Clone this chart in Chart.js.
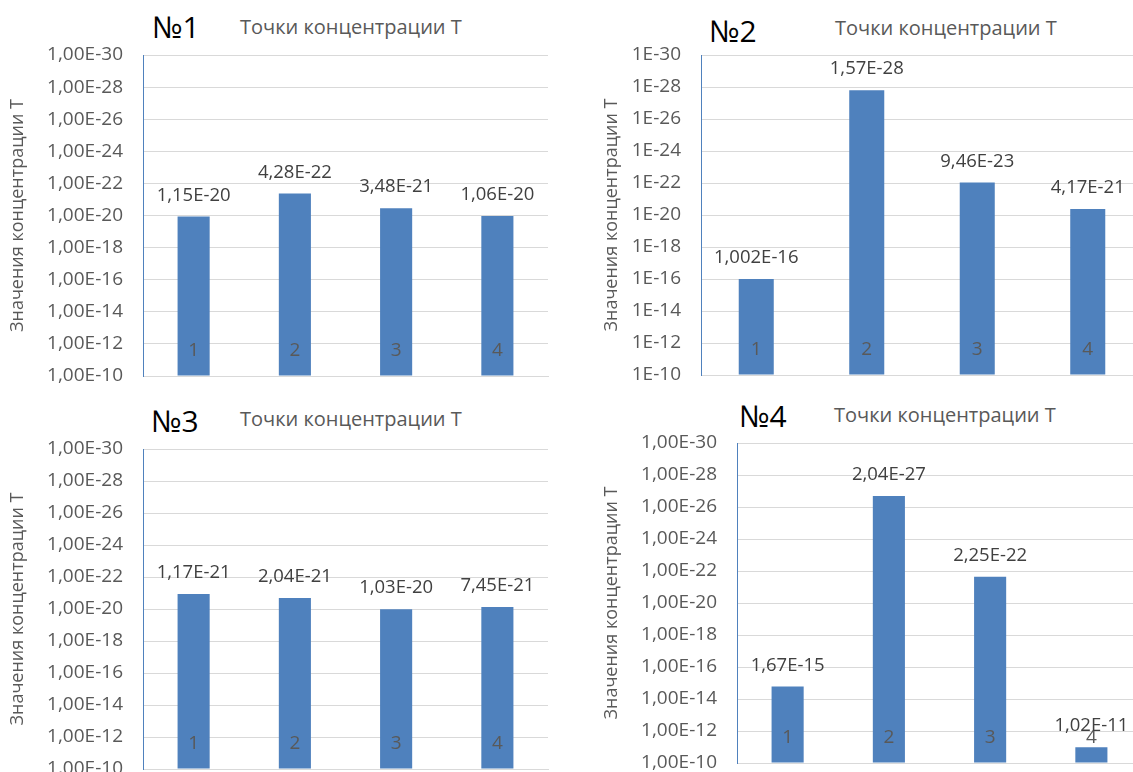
<!DOCTYPE html>
<html>
<head>
<meta charset="utf-8">
<script src="https://cdn.jsdelivr.net/npm/chart.js@4.4.1/dist/chart.umd.min.js"></script>
<style>
  html, body { margin: 0; padding: 0; background: #fff; overflow: hidden; }
  #wrap { position: relative; width: 1133px; height: 772px; overflow: hidden; font-family: 'Open Sans', sans-serif; }
  canvas { position: absolute; }
  .num { position: absolute; font-size: 30px; color: #000; line-height: 1; white-space: nowrap; }
  .sub { position: absolute; font-size: 20px; color: #595959; line-height: 1; white-space: nowrap; }
</style>
</head>
<body>
<div id="wrap">
  <div class="num" style="left:152px;top:12px">№1</div>
  <div class="sub" style="left:240px;top:17px">Точки концентрации Т</div>
  <div class="num" style="left:709px;top:16px">№2</div>
  <div class="sub" style="left:835px;top:18px">Точки концентрации Т</div>
  <div class="num" style="left:151px;top:406px">№3</div>
  <div class="sub" style="left:240px;top:409px">Точки концентрации Т</div>
  <div class="num" style="left:739px;top:401px">№4</div>
  <div class="sub" style="left:834px;top:405px">Точки концентрации Т</div>
  <canvas id="c1" width="580" height="385" style="left:0px;top:0px"></canvas>
  <canvas id="c2" width="560" height="385" style="left:590px;top:0px"></canvas>
  <canvas id="c3" width="580" height="382" style="left:0px;top:390px"></canvas>
  <canvas id="c4" width="560" height="382" style="left:590px;top:390px"></canvas>
</div>
<script>
// Measuring points
const categories = ['1', '2', '3', '4'];

// Concentration values T for each series
const valuesNo1 = [1.15e-20, 4.28e-22, 3.48e-21, 1.06e-20];
const valuesNo2 = [1.002e-16, 1.57e-28, 9.46e-23, 4.17e-21];
const valuesNo3 = [1.17e-21, 2.04e-21, 1.03e-20, 7.45e-21];
const valuesNo4 = [1.67e-15, 2.04e-27, 2.25e-22, 1.02e-11];

// Value axis ticks (every second decade)
const tickValues = [1e-30, 1e-28, 1e-26, 1e-24, 1e-22, 1e-20, 1e-18, 1e-16, 1e-14, 1e-12, 1e-10];
const tickLabelsFixed = ['1,00E-30', '1,00E-28', '1,00E-26', '1,00E-24', '1,00E-22', '1,00E-20',
                         '1,00E-18', '1,00E-16', '1,00E-14', '1,00E-12', '1,00E-10'];
const tickLabelsShort = ['1E-30', '1E-28', '1E-26', '1E-24', '1E-22', '1E-20',
                         '1E-18', '1E-16', '1E-14', '1E-12', '1E-10'];

const axisTitle = 'Значения концентрации Т';
const barBase = 1e-10;

const FONT = "'Open Sans', sans-serif";
const BAR_COLOR = '#4F81BD';
const GRID_COLOR = '#D9D9D9';

// Scientific notation with a decimal comma: 1.15e-20 -> 1,15E-20
function formatValue(v) {
  return v.toExponential().replace('.', ',').replace('e', 'E');
}

const barLabels = {
  id: 'barLabels',
  afterDatasetsDraw(chart) {
    const { ctx, chartArea, scales: { x, y } } = chart;
    const values = chart.data.datasets[0].data;
    ctx.save();
    ctx.textAlign = 'center';
    ctx.textBaseline = 'middle';
    // category numbers sit inside the bars near the bottom
    ctx.font = "19px " + FONT;
    ctx.fillStyle = '#595959';
    chart.data.labels.forEach((lab, i) => {
      ctx.fillText(lab, x.getPixelForValue(i), chartArea.bottom - 25);
    });
    // value labels above each bar
    ctx.font = "18.5px " + FONT;
    ctx.fillStyle = '#404040';
    values.forEach((v, i) => {
      ctx.fillText(formatValue(v), x.getPixelForValue(i), y.getPixelForValue(v) - 21);
    });
    ctx.restore();
  }
};

// Canvas boxes and target plot areas in page pixels
const panels = [
  { id: 'c1', values: valuesNo1, ticks: tickLabelsFixed,
    box: { left: 0, top: 0, width: 580, height: 385 },
    plot: { left: 143, top: 55, right: 548, bottom: 376 }, titleGap: 7 },
  { id: 'c2', values: valuesNo2, ticks: tickLabelsShort,
    box: { left: 590, top: 0, width: 560, height: 385 },
    plot: { left: 701, top: 55, right: 1143, bottom: 375 }, titleGap: 11 },
  { id: 'c3', values: valuesNo3, ticks: tickLabelsFixed,
    box: { left: 0, top: 390, width: 580, height: 382 },
    plot: { left: 143, top: 449, right: 548, bottom: 769 }, titleGap: 7 },
  { id: 'c4', values: valuesNo4, ticks: tickLabelsFixed,
    box: { left: 590, top: 390, width: 560, height: 382 },
    plot: { left: 737, top: 443, right: 1142, bottom: 763 }, titleGap: 11 }
];

panels.forEach(p => {
  const yWidth = p.plot.left - p.box.left;
  new Chart(document.getElementById(p.id), {
    type: 'bar',
    data: {
      labels: categories,
      datasets: [{
        data: p.values,
        base: barBase,
        backgroundColor: BAR_COLOR,
        borderWidth: 0,
        categoryPercentage: 1,
        barPercentage: 0.317
      }]
    },
    options: {
      responsive: false,
      animation: false,
      devicePixelRatio: 1,
      layout: {
        padding: {
          left: 0,
          top: p.plot.top - p.box.top,
          right: p.box.left + p.box.width - p.plot.right,
          bottom: p.box.top + p.box.height - p.plot.bottom
        }
      },
      plugins: { legend: { display: false }, tooltip: { enabled: false }, title: { display: false } },
      scales: {
        x: {
          type: 'category',
          grid: { display: false, drawTicks: false },
          border: { display: true, color: GRID_COLOR, width: 1 },
          ticks: { display: false },
          afterFit: s => { s.height = 0; s.paddingLeft = 0; s.paddingRight = 0; }
        },
        y: {
          type: 'logarithmic',
          reverse: true,
          min: tickValues[0],
          max: tickValues[tickValues.length - 1],
          grid: { color: GRID_COLOR, lineWidth: 1, drawTicks: false },
          border: { display: true, color: BAR_COLOR, width: 1 },
          ticks: {
            padding: 20,
            color: '#595959',
            font: { family: FONT, size: 19 },
            callback: (v) => {
              const i = tickValues.findIndex(t => Math.abs(Math.log10(t) - Math.log10(v)) < 1e-6);
              return i >= 0 ? p.ticks[i] : '';
            }
          },
          title: {
            display: true,
            text: axisTitle,
            color: '#595959',
            font: { family: FONT, size: 18 },
            padding: { top: p.titleGap, bottom: 0 }
          },
          afterBuildTicks: s => { s.ticks = tickValues.map(v => ({ value: v })); },
          afterFit: s => { s.width = yWidth; s.paddingTop = 0; s.paddingBottom = 0; }
        }
      }
    },
    plugins: [barLabels]
  });
});
</script>
</body>
</html>
